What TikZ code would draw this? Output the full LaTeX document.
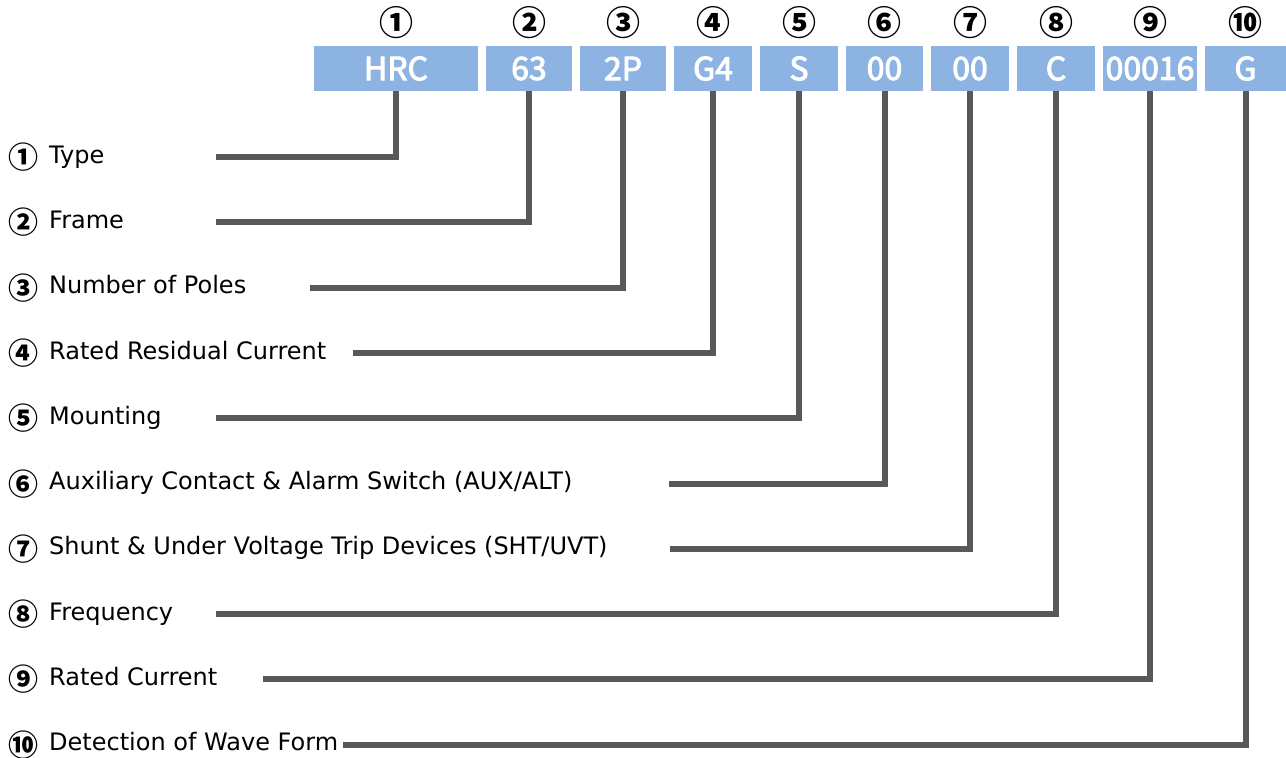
\documentclass[tikz,border=0pt]{standalone}
\usepackage{fontspec}
\setmainfont{DejaVu Sans}
\newfontfamily\circfont{Noto Sans CJK KR}
\newfontfamily\boxfont{Noto Sans CJK KR}[FakeBold=3]
\usetikzlibrary{positioning}

\definecolor{codeblue}{HTML}{8DB3E2}
\definecolor{leadgray}{HTML}{595959}

\newcommand{\circno}[1]{{\circfont\bfseries\fontsize{30}{30}\selectfont\raisebox{-5.5pt}{#1}}\hspace{11pt}}

\begin{document}
\begin{tikzpicture}[x=1pt,y=-1pt,
    codebox/.style={fill=codeblue,text=white,inner sep=0pt,outer sep=0pt,minimum height=45pt,anchor=west,font=\boxfont\fontsize{32}{32}\selectfont},
    topnum/.style={inner sep=0pt,font=\circfont\bfseries\fontsize{34}{34}\selectfont},
    item/.style={anchor=base west,inner sep=0pt,font=\fontsize{24}{24}\selectfont},
    lead/.style={draw=leadgray,line width=6pt,line join=miter}]
      \useasboundingbox (0,0) rectangle (1286,758);
      \node[codebox,minimum width=164pt] (hrc) at (314,68.5) {HRC};
      \node[codebox,minimum width=86pt] (frame) at (486,68.5) {63};
      \node[codebox,minimum width=86pt] (poles) at (580,68.5) {2P};
      \node[codebox,minimum width=78pt] (resid) at (674,68.5) {G4};
      \node[codebox,minimum width=78pt] (mount) at (760,68.5) {S};
      \node[codebox,minimum width=77pt] (aux) at (846,68.5) {00};
      \node[codebox,minimum width=78pt] (sht) at (931,68.5) {00};
      \node[codebox,minimum width=78pt] (freq) at (1017,68.5) {C};
      \node[codebox,minimum width=94pt] (rated) at (1103,68.5) {00016};
      \node[codebox,minimum width=81pt] (wave) at (1205,68.5) {G};

      \node[topnum,above=7pt of hrc] (n1) {①};
      \node[topnum,above=7pt of frame] (n2) {②};
      \node[topnum,above=7pt of poles] (n3) {③};
      \node[topnum,above=7pt of resid] (n4) {④};
      \node[topnum,above=7pt of mount] (n5) {⑤};
      \node[topnum,above=7pt of aux] (n6) {⑥};
      \node[topnum,above=7pt of sht] (n7) {⑦};
      \node[topnum,above=7pt of freq] (n8) {⑧};
      \node[topnum,above=7pt of rated] (n9) {⑨};
      \node[topnum,above=7pt of wave] (n10) {⑩};

      \node[item] (l1) at (8,163) {\circno{①}Type};
      \node[item] (l2) at (8,228.3) {\circno{②}Frame};
      \node[item] (l3) at (8,293.6) {\circno{③}Number of Poles};
      \node[item] (l4) at (8,359) {\circno{④}Rated Residual Current};
      \node[item] (l5) at (8,424.2) {\circno{⑤}Mounting};
      \node[item] (l6) at (8,489.5) {\circno{⑥}Auxiliary Contact \& Alarm Switch (AUX/ALT)};
      \node[item] (l7) at (8,554.8) {\circno{⑦}Shunt \& Under Voltage Trip Devices (SHT/UVT)};
      \node[item] (l8) at (8,620.1) {\circno{⑧}Frequency};
      \node[item] (l9) at (8,685.4) {\circno{⑨}Rated Current};
      \node[item] (l10) at (8,750.7) {\circno{⑩}Detection of Wave Form};

      \coordinate (e1) at (216,157);
      \coordinate (e2) at (216,222.3);
      \coordinate (e3) at (310,287.6);
      \coordinate (e4) at (353,353);
      \coordinate (e5) at (216,418.2);
      \coordinate (e6) at (669,483.5);
      \coordinate (e7) at (670,548.8);
      \coordinate (e8) at (216,614.1);
      \coordinate (e9) at (263,679.4);
      \coordinate (e10) at (343,744.7);

      \draw[lead] (hrc.south) |- (e1);
      \draw[lead] (frame.south) |- (e2);
      \draw[lead] (poles.south) |- (e3);
      \draw[lead] (resid.south) |- (e4);
      \draw[lead] (mount.south) |- (e5);
      \draw[lead] (aux.south) |- (e6);
      \draw[lead] (sht.south) |- (e7);
      \draw[lead] (freq.south) |- (e8);
      \draw[lead] (rated.south) |- (e9);
      \draw[lead] (wave.south) |- (e10);
\end{tikzpicture}
\end{document}
